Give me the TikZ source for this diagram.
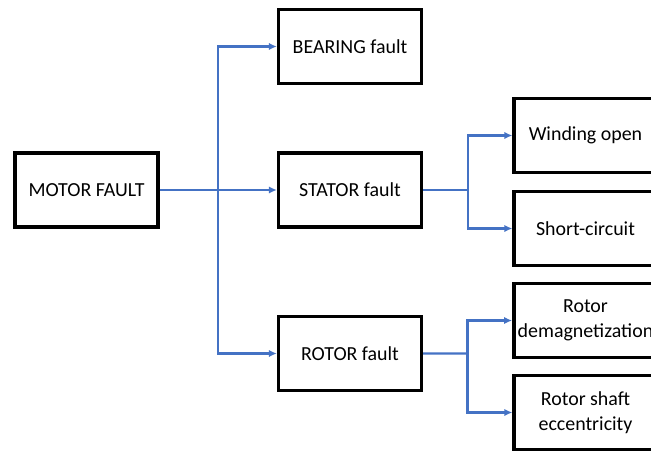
\documentclass[tikz,border=0pt]{standalone}
\usepackage{fontspec}
\setmainfont{Carlito}
\usetikzlibrary{arrows.meta,positioning,calc}

\definecolor{linkblue}{RGB}{68,114,196}

\begin{document}
\begin{tikzpicture}[x=0.03cm, y=-0.03cm]
    % Stili
    \tikzstyle{block}=[rectangle, draw=black, line width=3pt, minimum width=4.28cm, minimum height=2.22cm, text centered, align=center, font=\fontsize{17}{21}\selectfont]
    \tikzstyle{arrow}=[draw=linkblue, line width=2.1pt, -{Latex[length=2.4mm,width=2.2mm]}]
    \tikzstyle{wire}=[draw=linkblue, line width=2.1pt]

    \useasboundingbox (0,0) rectangle (651,452);
    \clip (0,0) rectangle (651,452);

    % Guasto principale
    \node (motor) [block] at (86.5,190) {MOTOR FAULT};

    % Secondo livello
    \node (bearing) [block] at (350,46.5) {BEARING fault};
    \node (stator) [block] at (350,190) {STATOR fault};
    \node (rotor) [block] at (350,353.5) {ROTOR fault};

    % Terzo livello
    \node (winding) [block] at (585.5,135.5) {Winding open};
    \node (short) [block] at (585.5,228.5) {Short-circuit};
    \node (demag) [block] at (585.5,320.5) {Rotor\\demagnetization};
    \node (shaft) [block] at (585.5,412.5) {Rotor shaft\\eccentricity};

    % Punti di diramazione
    \coordinate (split1) at ($(motor.east)!0.5!(stator.west)$);
    \coordinate (split2) at ($(stator.east)!0.5!(winding.west |- stator.east)$);
    \coordinate (split3) at ($(rotor.east)!0.5!(demag.west |- rotor.east)$);

    % Collegamenti
    \draw [wire] (motor.east) -- (split1);
    \draw [arrow] (split1) |- (bearing.west);
    \draw [arrow] (split1) -- (stator.west);
    \draw [arrow] (split1) |- (rotor.west);

    \draw [wire] (stator.east) -- (split2);
    \draw [arrow] (split2) |- (winding.west);
    \draw [arrow] (split2) |- (short.west);

    \draw [wire] (rotor.east) -- (split3);
    \draw [arrow] (split3) |- (demag.west);
    \draw [arrow] (split3) |- (shaft.west);

\end{tikzpicture}
\end{document}
